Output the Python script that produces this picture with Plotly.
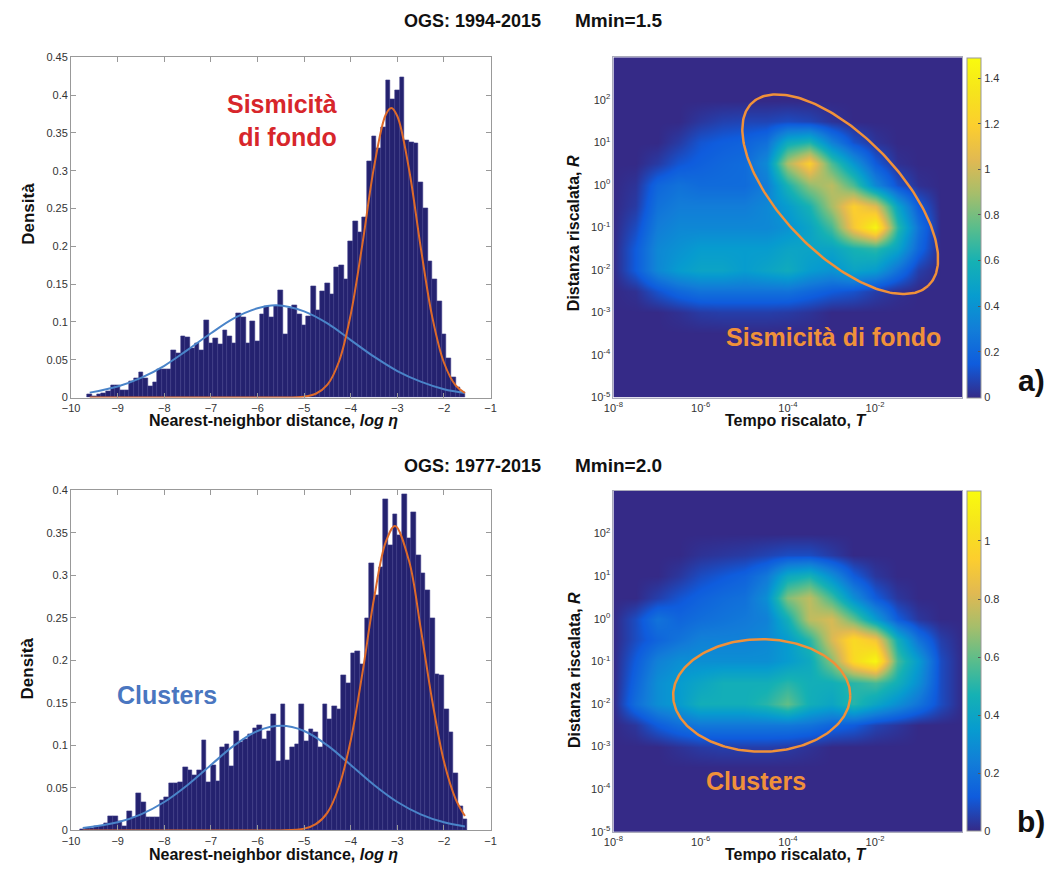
import numpy as np
import plotly.graph_objects as go

W, H = 1055, 872

# ---------------- data: histograms ----------------
BIN_WIDTH = 0.1
TOP_BIN_START = -9.6     # centre of first bin (panel a)
BOT_BIN_START = -9.75    # centre of first bin (panel b)

top_density = [
    0.004, 0.002, 0.004, 0.006, 0.008, 0.016, 0.016, 0.009, 0.009, 0.021,
    0.025, 0.033, 0.025, 0.015, 0.020, 0.037, 0.037, 0.038, 0.062, 0.059,
    0.081, 0.080, 0.065, 0.072, 0.063, 0.102, 0.072, 0.078, 0.070, 0.089,
    0.081, 0.072, 0.112, 0.106, 0.072, 0.101, 0.074, 0.110, 0.121, 0.106,
    0.121, 0.142, 0.084, 0.118, 0.122, 0.110, 0.096, 0.108, 0.147, 0.116,
    0.140, 0.151, 0.137, 0.172, 0.175, 0.156, 0.207, 0.233, 0.219, 0.238,
    0.313, 0.346, 0.330, 0.357, 0.420, 0.394, 0.407, 0.424, 0.340, 0.338,
    0.336, 0.285, 0.250, 0.180, 0.157, 0.127, 0.083, 0.052, 0.027, 0.013,
    0.007,
]
bottom_density = [
    0.002, 0.003, 0.003, 0.005, 0.005, 0.009, 0.017, 0.017, 0.011, 0.005,
    0.023, 0.015, 0.044, 0.033, 0.015, 0.015, 0.015, 0.035, 0.039, 0.055,
    0.055, 0.057, 0.074, 0.071, 0.065, 0.071, 0.106, 0.057, 0.077, 0.058,
    0.098, 0.101, 0.076, 0.117, 0.104, 0.107, 0.113, 0.120, 0.124, 0.107,
    0.117, 0.137, 0.081, 0.149, 0.083, 0.098, 0.101, 0.149, 0.105, 0.119,
    0.116, 0.098, 0.149, 0.131, 0.146, 0.142, 0.182, 0.173, 0.208, 0.211,
    0.196, 0.250, 0.314, 0.277, 0.310, 0.389, 0.335, 0.372, 0.347, 0.395,
    0.343, 0.374, 0.324, 0.302, 0.283, 0.250, 0.184, 0.183, 0.142, 0.115,
    0.067, 0.028, 0.013,
]

# fitted components
top_blue_x = [-9.6, -9, -8.5, -8, -7.5, -7, -6.5, -6, -5.6, -5, -4.5, -4, -3.5, -3, -2.5, -2, -1.55]
top_blue_y = [0.0065, 0.0146, 0.026, 0.042, 0.063, 0.085, 0.105, 0.118, 0.122, 0.114, 0.098,
              0.076, 0.054, 0.035, 0.021, 0.011, 0.006]
top_orange_x = [-9.6, -6, -5.5, -5, -4.75, -4.5, -4.25, -4, -3.75, -3.5, -3.25, -3.13, -3,
                -2.75, -2.5, -2.25, -2, -1.75, -1.55]
top_orange_y = [0, 0, 0, 0.0012, 0.005, 0.017, 0.048, 0.11, 0.203, 0.305, 0.374, 0.383, 0.372,
                0.302, 0.199, 0.106, 0.046, 0.016, 0.006]
bot_blue_x = [-9.75, -9, -8.5, -8, -7.5, -7, -6.5, -6, -5.5, -5, -4.5, -4, -3.5, -3, -2.5, -2, -1.55]
bot_blue_y = [0.0029, 0.0096, 0.019, 0.0335, 0.0535, 0.077, 0.1, 0.117, 0.123, 0.117, 0.1,
              0.077, 0.0535, 0.0335, 0.019, 0.0096, 0.0048]
bot_orange_x = [-9.75, -6, -5.5, -5, -4.75, -4.5, -4.25, -4, -3.75, -3.5, -3.25, -3.05,
                -2.75, -2.5, -2.25, -2, -1.75, -1.55]
bot_orange_y = [0, 0, 0.0001, 0.0022, 0.0074, 0.021, 0.052, 0.106, 0.185, 0.273, 0.339, 0.358,
                0.317, 0.238, 0.152, 0.081, 0.037, 0.017]

# ---------------- data: density maps (log10 T columns, log10 R rows) ----------------
logT = [-8, -7.5, -7, -6.5, -6, -5.5, -5, -4.5, -4, -3.5, -3, -2.5, -2, -1.5, -1, -0.5, 0]
logR_desc = [3, 2.5, 2, 1.5, 1, 0.5, 0, -0.5, -1, -1.5, -2, -2.5, -3, -3.5, -4, -4.5, -5]
Z0 = [0] * 17
top_map = [
    Z0,
    Z0,
    Z0,
    [0, 0, 0, 0, 0.04, 0.07, 0.08, 0.08, 0.10, 0.08, 0.03, 0, 0, 0, 0, 0, 0],
    [0, 0, 0, 0.05, 0.13, 0.16, 0.18, 0.24, 0.55, 0.62, 0.32, 0.12, 0.03, 0, 0, 0, 0],
    [0, 0, 0.05, 0.13, 0.17, 0.20, 0.22, 0.36, 0.92, 1.20, 0.72, 0.42, 0.15, 0.02, 0, 0, 0],
    [0, 0.03, 0.20, 0.25, 0.22, 0.22, 0.22, 0.30, 0.60, 0.85, 0.95, 0.72, 0.35, 0.12, 0.02, 0, 0],
    [0, 0.05, 0.25, 0.30, 0.30, 0.30, 0.30, 0.35, 0.45, 0.60, 0.90, 1.20, 1.05, 0.50, 0.15, 0, 0],
    [0, 0.10, 0.30, 0.35, 0.35, 0.35, 0.35, 0.35, 0.40, 0.50, 0.70, 1.15, 1.45, 0.65, 0.25, 0, 0],
    [0, 0.15, 0.35, 0.40, 0.45, 0.45, 0.45, 0.45, 0.50, 0.50, 0.50, 0.60, 0.65, 0.50, 0.20, 0, 0],
    [0, 0.15, 0.35, 0.45, 0.50, 0.50, 0.45, 0.50, 0.55, 0.45, 0.40, 0.50, 0.45, 0.25, 0.06, 0, 0],
    [0, 0.02, 0.12, 0.20, 0.25, 0.25, 0.25, 0.25, 0.25, 0.20, 0.15, 0.12, 0.06, 0.02, 0, 0, 0],
    [0, 0, 0, 0.02, 0.05, 0.06, 0.06, 0.06, 0.05, 0.03, 0, 0, 0, 0, 0, 0, 0],
    Z0, Z0, Z0, Z0,
]
bottom_map = [
    Z0,
    Z0,
    Z0,
    [0, 0, 0, 0, 0.02, 0.03, 0.04, 0.06, 0.08, 0.08, 0.04, 0, 0, 0, 0, 0, 0],
    [0, 0, 0, 0.03, 0.08, 0.11, 0.14, 0.22, 0.42, 0.47, 0.30, 0.12, 0.03, 0, 0, 0, 0],
    [0, 0, 0.05, 0.10, 0.14, 0.17, 0.19, 0.30, 0.65, 0.75, 0.55, 0.30, 0.12, 0.03, 0, 0, 0],
    [0, 0.08, 0.20, 0.15, 0.18, 0.20, 0.22, 0.25, 0.45, 0.75, 0.80, 0.60, 0.35, 0.12, 0.03, 0, 0],
    [0, 0.08, 0.15, 0.20, 0.25, 0.25, 0.25, 0.28, 0.35, 0.50, 0.80, 1.00, 0.90, 0.45, 0.20, 0.05, 0],
    [0, 0.12, 0.25, 0.30, 0.30, 0.30, 0.30, 0.30, 0.35, 0.42, 0.65, 1.00, 1.15, 0.55, 0.35, 0.08, 0],
    [0, 0.15, 0.30, 0.35, 0.40, 0.45, 0.45, 0.45, 0.50, 0.45, 0.45, 0.50, 0.55, 0.45, 0.30, 0.08, 0],
    [0, 0.18, 0.30, 0.35, 0.45, 0.45, 0.45, 0.50, 0.60, 0.45, 0.40, 0.50, 0.40, 0.30, 0.20, 0.08, 0],
    [0, 0.03, 0.12, 0.18, 0.22, 0.22, 0.22, 0.22, 0.22, 0.20, 0.15, 0.12, 0.06, 0.03, 0, 0, 0],
    [0, 0, 0, 0.02, 0.04, 0.05, 0.05, 0.05, 0.04, 0.02, 0, 0, 0, 0, 0, 0, 0],
    Z0, Z0, Z0, Z0,
]
top_zmax, bottom_zmax = 1.49, 1.17

# annotation ellipses (centre / semi-axes in decades, rotation in degrees)
ell_top = dict(cx=-2.8, cy=-0.22, a=2.95, b=1.36, ang=-47)
ell_bot = dict(cx=-4.6, cy=-1.8, a=2.03, b=1.32, ang=0)

hist_xticks = list(range(-10, 0))
T_ticks = [-8, -6, -4, -2]
R_ticks = [-5, -4, -3, -2, -1, 0, 1, 2]

# ---------------- styling ----------------
FONT = "Liberation Sans, Arial, Helvetica, sans-serif"
BAR = "#24226f"
BAR_EDGE = "#3c3a88"
BLUE = "#4a84c9"
ORANGE = "#dd6a2a"
ELL = "#f0913a"
parula = [
    [0.0, "rgb(53,42,135)"], [0.1, "rgb(15,92,221)"], [0.2, "rgb(18,125,216)"],
    [0.3, "rgb(7,156,207)"], [0.4, "rgb(21,177,180)"], [0.5, "rgb(89,189,140)"],
    [0.6, "rgb(165,190,107)"], [0.7, "rgb(225,185,82)"], [0.8, "rgb(252,206,46)"],
    [0.9, "rgb(246,228,28)"], [1.0, "rgb(249,251,14)"],
]


def px(x):
    return x / W


def py(y):
    return 1 - y / H


fig = go.Figure()

# ---- histograms ----
for (start, dens, ax, bx, by, ox, oy) in [
    (TOP_BIN_START, top_density, "", top_blue_x, top_blue_y, top_orange_x, top_orange_y),
    (BOT_BIN_START, bottom_density, "3", bot_blue_x, bot_blue_y, bot_orange_x, bot_orange_y),
]:
    centers = np.round(start + BIN_WIDTH * np.arange(len(dens)), 3)
    fig.add_trace(go.Bar(x=centers, y=dens, width=BIN_WIDTH,
                         marker=dict(color=BAR, line=dict(color=BAR_EDGE, width=0.6)),
                         xaxis="x" + ax, yaxis="y" + ax, showlegend=False))
    fig.add_trace(go.Scatter(x=bx, y=by, mode="lines", line=dict(color=BLUE, width=2, shape="spline"),
                             xaxis="x" + ax, yaxis="y" + ax, showlegend=False))
    fig.add_trace(go.Scatter(x=ox, y=oy, mode="lines", line=dict(color=ORANGE, width=2, shape="spline"),
                             xaxis="x" + ax, yaxis="y" + ax, showlegend=False))

# ---- density maps ----
for (zmap, zmax, ax, cb_bottom, cb_ticks, ell) in [
    (top_map, top_zmax, "2", 397, [0, 0.2, 0.4, 0.6, 0.8, 1, 1.2, 1.4], ell_top),
    (bottom_map, bottom_zmax, "4", 837, [0, 0.2, 0.4, 0.6, 0.8, 1], ell_bot),
]:
    fig.add_trace(go.Heatmap(
        x=logT, y=logR_desc[::-1], z=zmap[::-1], zmin=0, zmax=zmax, zsmooth="best",
        colorscale=parula, xaxis="x" + ax, yaxis="y" + ax,
        colorbar=dict(x=px(972), xanchor="left", y=py(cb_bottom), yanchor="bottom",
                      len=345 / H, lenmode="fraction", thickness=14,
                      tickvals=cb_ticks, ticktext=[f"{v:g}" for v in cb_ticks],
                      ticks="inside", ticklen=3, tickcolor="#555",
                      tickfont=dict(size=11, color="#333", family=FONT),
                      outlinecolor="#999", outlinewidth=1, xpad=0, ypad=0)))
    t = np.linspace(0, 2 * np.pi, 240)
    th = np.deg2rad(ell["ang"])
    ex = ell["cx"] + ell["a"] * np.cos(t) * np.cos(th) - ell["b"] * np.sin(t) * np.sin(th)
    ey = ell["cy"] + ell["a"] * np.cos(t) * np.sin(th) + ell["b"] * np.sin(t) * np.cos(th)
    fig.add_trace(go.Scatter(x=ex, y=ey, mode="lines", line=dict(color=ELL, width=2.5),
                             xaxis="x" + ax, yaxis="y" + ax, showlegend=False, hoverinfo="skip"))

hist_axis = dict(showline=True, linecolor="#999", linewidth=1, mirror="ticks", ticks="inside",
                 ticklen=5, tickcolor="#999", showgrid=False, zeroline=False,
                 tickfont=dict(size=11, color="#333", family=FONT))
map_axis = dict(showline=True, linecolor="#aab", linewidth=1, mirror=True, ticks="",
                showgrid=False, zeroline=False, tickfont=dict(size=11, color="#333", family=FONT))

xh_dom = [px(62), px(488)]
xm_dom = [px(612.7), px(967)]
top_dom = [py(397), py(52)]
bot_dom = [py(836), py(491)]

fig.update_layout(
    width=W, height=H, margin=dict(l=0, r=0, t=0, b=0),
    paper_bgcolor="white", plot_bgcolor="white", showlegend=False, bargap=0,
    font=dict(family=FONT, color="#111"),
    xaxis=dict(hist_axis, domain=xh_dom, anchor="y", range=[-10, -1], tickvals=hist_xticks),
    yaxis=dict(hist_axis, domain=top_dom, anchor="x", range=[0, 0.45], dtick=0.05),
    xaxis3=dict(hist_axis, domain=xh_dom, anchor="y3", range=[-10, -1], tickvals=hist_xticks),
    yaxis3=dict(hist_axis, domain=bot_dom, anchor="x3", range=[0, 0.4], dtick=0.05),
    xaxis2=dict(map_axis, domain=xm_dom, anchor="y2", range=[-8, 0], tickvals=T_ticks,
                ticktext=[f"10<sup>{v}</sup>" for v in T_ticks]),
    yaxis2=dict(map_axis, domain=top_dom, anchor="x2", range=[-5, 3], tickvals=R_ticks,
                ticktext=[f"10<sup>{v}</sup>" for v in R_ticks]),
    xaxis4=dict(map_axis, domain=xm_dom, anchor="y4", range=[-8, 0], tickvals=T_ticks,
                ticktext=[f"10<sup>{v}</sup>" for v in T_ticks]),
    yaxis4=dict(map_axis, domain=[py(837.3), py(491.7)], anchor="x4", range=[-5, 3], tickvals=R_ticks,
                ticktext=[f"10<sup>{v}</sup>" for v in R_ticks]),
)


def ann(text, x, y, size, color="#111", angle=0, xanchor="center", align="center"):
    fig.add_annotation(text=text, x=px(x), y=py(y), xref="paper", yref="paper", showarrow=False,
                       xanchor=xanchor, yanchor="middle", textangle=angle, align=align,
                       font=dict(size=size, color=color, family=FONT))


# titles
ann("<b>OGS: 1994-2015</b>", 541, 15, 18, xanchor="right")
ann("<b>Mmin=1.5</b>", 572, 15, 19, xanchor="left")
ann("<b>OGS: 1977-2015</b>", 541, 466, 18, xanchor="right")
ann("<b>Mmin=2.0</b>", 572, 466, 19, xanchor="left")

# axis titles
for yb in (420, 860):
    ann("<b>Nearest-neighbor distance, <i>log η</i></b>", 268, yb, 16)
    ann("<b>Tempo riscalato, <i>T</i></b>", 798, yb, 16)
ann("<b>Densità</b>", 18, 211, 17, angle=-90)
ann("<b>Densità</b>", 18, 672, 17, angle=-90)
ann("<b>Distanza riscalata, <i>R</i></b>", 573, 230, 16, angle=-90)
ann("<b>Distanza riscalata, <i>R</i></b>", 573, 673, 16, angle=-90)

# in-panel labels
ann("<b>Sismicità<br>di fondo</b>", 334, 116, 25, color="#d7262b", xanchor="right", align="right")
ann("<b>Clusters</b>", 159, 699, 25, color="#4a76c0")
ann("<b>Sismicità di fondo</b>", 836, 336, 25, color=ELL)
ann("<b>Clusters</b>", 757, 786, 25, color=ELL)

# panel letters
ann("<b>a)</b>", 1037, 380, 30)
ann("<b>b)</b>", 1037, 827, 30)

fig.write_html("out.html")
